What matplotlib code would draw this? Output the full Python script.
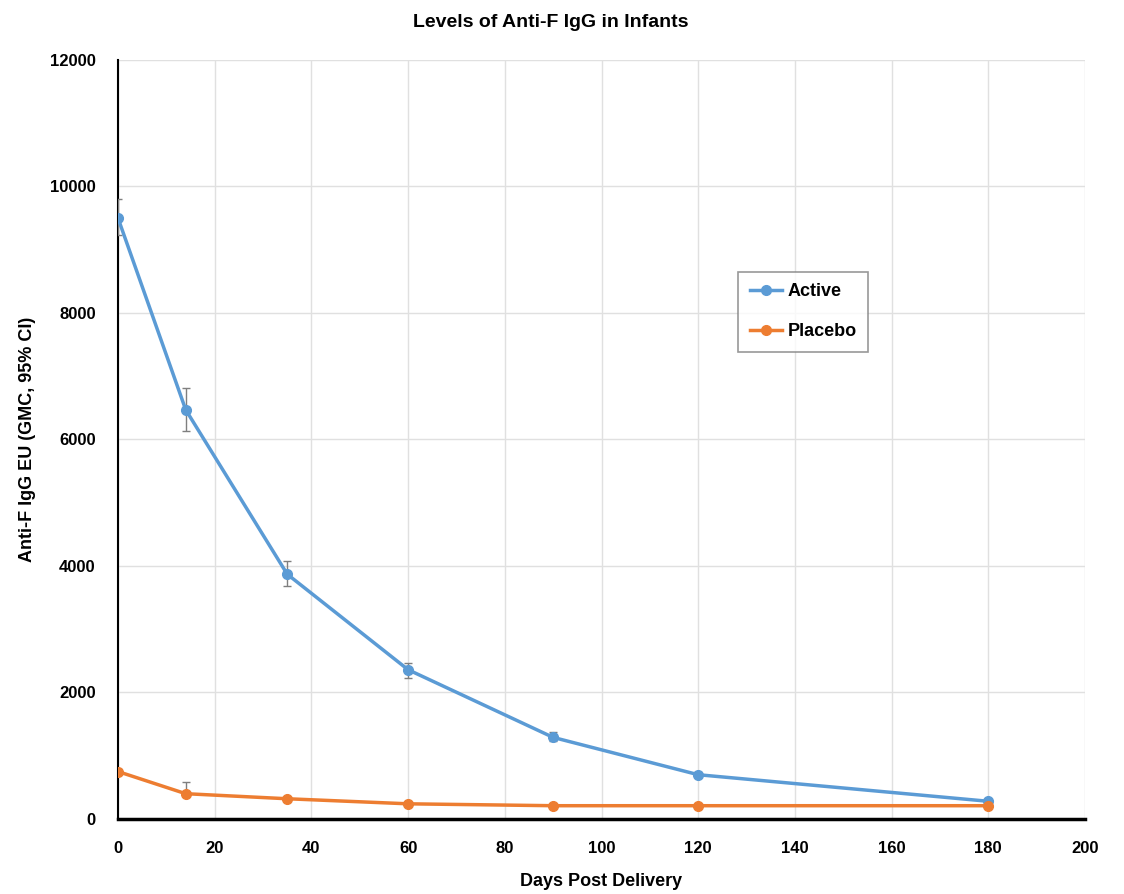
import matplotlib
matplotlib.use("Agg")
import matplotlib.pyplot as plt
from matplotlib.lines import Line2D

# ── Data ──────────────────────────────────────────────────────────────────────
days = [0, 14, 35, 60, 90, 120, 180]

active = [9500, 6470, 3870, 2360, 1290, 700, 280]
active_lo = [260, 330, 180, 130, 60, 40, 30]
active_hi = [300, 350, 210, 110, 80, 40, 30]

placebo = [750, 400, 320, 240, 210, 210, 210]
placebo_lo = [30, 20, 15, 10, 10, 10, 10]
placebo_hi = [40, 190, 20, 15, 10, 10, 10]

x_ticks = list(range(0, 201, 20))
y_ticks = list(range(0, 12001, 2000))

BLUE = "#5B9BD5"
ORANGE = "#ED7D31"

plt.rcParams["font.family"] = ["Liberation Sans Narrow", "Liberation Sans", "DejaVu Sans"]

fig = plt.figure(figsize=(11.24, 8.94), dpi=100)
ax = fig.add_axes([0.105, 0.0839, 0.8603, 0.849])

ax.errorbar(days, active, yerr=[active_lo, active_hi], color=BLUE, lw=2.5,
            marker="o", ms=7, ecolor="#7f7f7f", elinewidth=1, capsize=3, zorder=3)
ax.errorbar(days, placebo, yerr=[placebo_lo, placebo_hi], color=ORANGE, lw=2.5,
            marker="o", ms=7, ecolor="#7f7f7f", elinewidth=1, capsize=3, zorder=3)

ax.set_xlim(0, 200)
ax.set_ylim(0, 12000)
ax.set_xticks(x_ticks)
ax.set_yticks(y_ticks)
ax.grid(True, color="#e0e0e0", lw=1)
ax.set_axisbelow(True)

for s in ["top", "right"]:
    ax.spines[s].set_visible(False)
ax.spines["left"].set_linewidth(1.5)
ax.spines["bottom"].set_linewidth(2.5)
ax.tick_params(axis="x", length=0, pad=16, labelsize=12)
ax.tick_params(axis="y", length=0, pad=16, labelsize=12)
for lab in ax.get_xticklabels() + ax.get_yticklabels():
    lab.set_fontweight("bold")

ax.set_xlabel("Days Post Delivery", fontsize=13, fontweight="bold", labelpad=12)
ax.set_ylabel("Anti-F IgG EU (GMC, 95% CI)", fontsize=13, fontweight="bold", labelpad=10)
fig.text(0.49, 0.975, "Levels of Anti-F IgG in Infants", ha="center", va="center",
         fontsize=14, fontweight="bold")

handles = [Line2D([], [], color=BLUE, lw=2.5, marker="o", ms=7),
           Line2D([], [], color=ORANGE, lw=2.5, marker="o", ms=7)]
leg = ax.legend(handles, ["Active", "Placebo"], loc="upper left",
                bbox_to_anchor=(0.641, 0.721), fancybox=False,
                edgecolor="#7f7f7f", prop={"weight": "bold", "size": 13},
                handlelength=1.8, handletextpad=0.3, labelspacing=1.25,
                borderpad=0.65, borderaxespad=0)
leg.get_frame().set_linewidth(1.2)

fig.savefig("out.png", dpi=100)
